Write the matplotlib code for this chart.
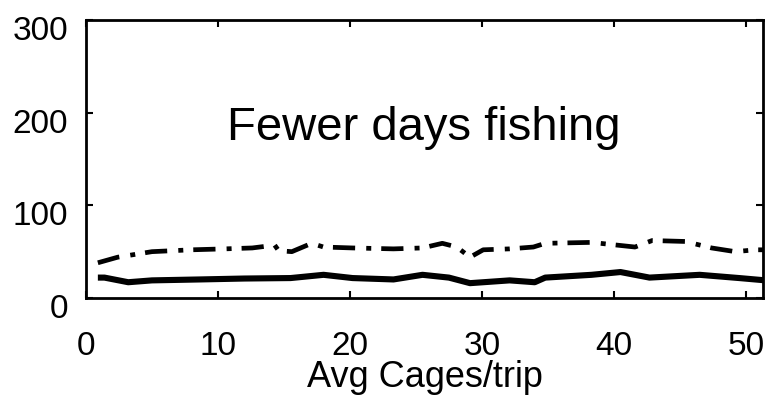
import matplotlib
matplotlib.use("Agg")
import matplotlib.pyplot as plt
from matplotlib.transforms import ScaledTranslation

plt.rcParams['font.family'] = ['Liberation Sans', 'DejaVu Sans']
plt.rcParams['lines.scale_dashes'] = False

# Avg cages per trip (x) and the two simulated series
cages_dashdot = [0.9, 2.4, 5.0, 8.0, 10.5, 12.6, 14.3, 14.6, 15.6, 17.1, 18.0,
                 20.2, 23.3, 25.5, 27.0, 28.1, 29.1, 30.1, 32.1, 33.9, 34.8,
                 38.3, 41.6, 42.9, 45.4, 47.4, 49.2, 50.7, 51.5]
days_dashdot = [38, 44, 50, 52, 53, 54, 57, 51, 50, 59, 55,
                54, 53, 54, 59, 55, 44, 52, 53, 55, 59,
                60, 55, 62, 61, 54, 50, 52, 52]

cages_solid = [0.9, 1.4, 3.2, 5.0, 8.6, 12.0, 15.5, 18.0, 20.2, 23.3, 25.5,
               27.5, 29.1, 32.1, 34.0, 34.8, 38.3, 40.5, 42.7, 46.5, 49.5, 51.5]
days_solid = [22, 22, 17, 19, 20, 21, 21.5, 25, 21.5, 20, 25,
              22, 16, 19, 17, 22, 25, 28, 22, 25, 21.5, 19]

x_ticks = [0, 10, 20, 30, 40, 50]
y_ticks = [0, 100, 200, 300]

fig = plt.figure(figsize=(7.65, 3.98), dpi=100)
ax = fig.add_axes([0.1124, 0.2513, 0.8850, 0.6984])

ax.plot(cages_dashdot, days_dashdot, color='black', lw=3.4,
        linestyle=(0, (16, 8, 3.6, 7.2)), dash_capstyle='butt')
ax.plot(cages_solid, days_solid, color='black', lw=4.4, solid_capstyle='butt')

ax.text(25.6, 170, 'Fewer days fishing', ha='center', va='baseline',
        fontsize=34, color='black')

ax.set_xlim(0, 51.3)
ax.set_ylim(0, 300)
ax.set_xticks(x_ticks)
ax.set_yticks(y_ticks)
ax.tick_params(direction='in', length=5, width=1.5, top=True, right=True,
               labelsize=24, colors='black')
ax.tick_params(axis='x', pad=24)
ax.tick_params(axis='y', pad=13)
for spine in ax.spines.values():
    spine.set_linewidth(2)

offset = ScaledTranslation(0, -8 / 100, fig.dpi_scale_trans)
for lab in ax.get_yticklabels():
    lab.set_transform(lab.get_transform() + offset)

ax.set_xlabel('Avg Cages/trip', fontsize=26, labelpad=-2)

fig.savefig('out.png', dpi=100)
